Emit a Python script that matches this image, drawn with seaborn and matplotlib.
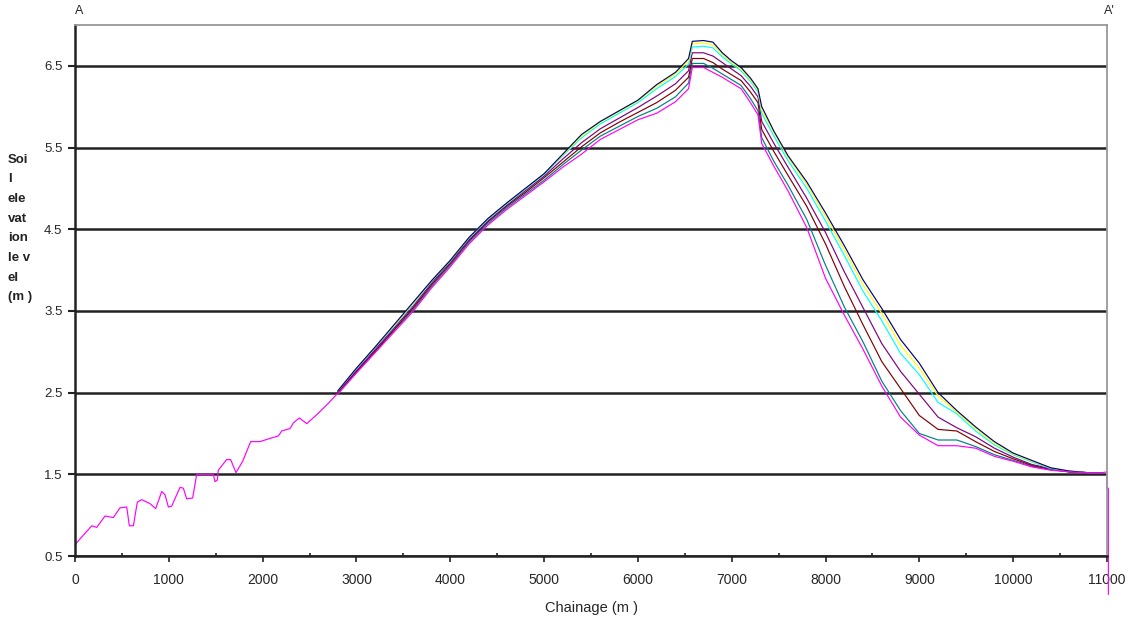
import numpy as np
import matplotlib
matplotlib.use("Agg")
import matplotlib.pyplot as plt
import seaborn as sns

# shared low section (only the magenta line is visible here)
LEFT_X = [0, 178, 231, 320, 408, 480, 551, 579, 622, 664, 711, 800, 860, 924, 959, 995,
          1030, 1119, 1155, 1190, 1254, 1297, 1403, 1474, 1492, 1517, 1527, 1616, 1659,
          1716, 1787, 1872, 1971, 2079, 2168, 2203, 2292, 2328, 2391, 2470, 2577, 2701, 2790]
LEFT_Y = [0.64, 0.87, 0.85, 0.99, 0.97, 1.09, 1.10, 0.87, 0.87, 1.16, 1.19, 1.14, 1.08,
          1.29, 1.25, 1.10, 1.11, 1.34, 1.33, 1.20, 1.21, 1.50, 1.50, 1.50, 1.41, 1.43,
          1.55, 1.68, 1.68, 1.52, 1.66, 1.90, 1.90, 1.94, 1.97, 2.03, 2.06, 2.13, 2.19,
          2.12, 2.23, 2.37, 2.48]

# chainage for the seven diverging profiles
X_R = [2800, 3000, 3200, 3400, 3600, 3800, 4000, 4200, 4400, 4600, 4800, 5000, 5200,
       5400, 5600, 5800, 6000, 6200, 6400, 6540, 6580, 6700, 6800, 6900, 7000, 7100,
       7200, 7280, 7320, 7450, 7600, 7800, 8000, 8200, 8400, 8600, 8800, 9000, 9200,
       9400, 9600, 9800, 10000, 10200, 10400, 10600, 10800, 10950]

navy = [2.52, 2.80, 3.06, 3.33, 3.60, 3.87, 4.12, 4.40, 4.63, 4.82, 5.00, 5.18, 5.42,
        5.66, 5.82, 5.95, 6.08, 6.27, 6.42, 6.59, 6.80, 6.81, 6.79, 6.66, 6.56, 6.48,
        6.35, 6.22, 6.00, 5.70, 5.40, 5.08, 4.70, 4.30, 3.88, 3.53, 3.15, 2.86, 2.50,
        2.28, 2.08, 1.90, 1.76, 1.67, 1.58, 1.54, 1.52, 1.52]
yellow = [2.52, 2.80, 3.06, 3.32, 3.59, 3.87, 4.12, 4.40, 4.63, 4.82, 5.00, 5.18, 5.41,
          5.64, 5.81, 5.94, 6.07, 6.25, 6.40, 6.56, 6.77, 6.78, 6.76, 6.64, 6.54, 6.46,
          6.33, 6.20, 5.96, 5.68, 5.38, 5.05, 4.66, 4.25, 3.82, 3.47, 3.08, 2.80, 2.46,
          2.26, 2.06, 1.88, 1.75, 1.66, 1.58, 1.54, 1.52, 1.52]
cyan = [2.52, 2.79, 3.05, 3.31, 3.58, 3.86, 4.11, 4.39, 4.62, 4.81, 4.99, 5.17, 5.40,
        5.62, 5.79, 5.92, 6.05, 6.22, 6.37, 6.52, 6.73, 6.74, 6.72, 6.61, 6.52, 6.44,
        6.31, 6.18, 5.92, 5.64, 5.34, 5.00, 4.60, 4.18, 3.74, 3.38, 2.98, 2.72, 2.38,
        2.24, 2.03, 1.86, 1.74, 1.65, 1.57, 1.54, 1.52, 1.52]
purple = [2.51, 2.77, 3.03, 3.29, 3.55, 3.84, 4.10, 4.37, 4.60, 4.79, 4.97, 5.15, 5.36,
          5.56, 5.73, 5.86, 5.99, 6.13, 6.28, 6.44, 6.66, 6.66, 6.62, 6.54, 6.46, 6.38,
          6.25, 6.12, 5.82, 5.55, 5.26, 4.88, 4.46, 3.98, 3.54, 3.10, 2.76, 2.48, 2.20,
          2.07, 1.96, 1.82, 1.71, 1.62, 1.57, 1.53, 1.52, 1.52]
darkred = [2.50, 2.76, 3.01, 3.27, 3.53, 3.82, 4.08, 4.36, 4.59, 4.78, 4.95, 5.13, 5.32,
           5.51, 5.68, 5.81, 5.93, 6.05, 6.20, 6.36, 6.59, 6.59, 6.54, 6.46, 6.39, 6.32,
           6.18, 6.05, 5.72, 5.45, 5.16, 4.78, 4.32, 3.80, 3.33, 2.88, 2.55, 2.22, 2.05,
           2.03, 1.90, 1.78, 1.69, 1.61, 1.56, 1.53, 1.52, 1.52]
teal = [2.49, 2.75, 3.00, 3.26, 3.51, 3.80, 4.06, 4.34, 4.57, 4.76, 4.93, 5.10, 5.29,
        5.47, 5.64, 5.76, 5.88, 5.98, 6.12, 6.29, 6.53, 6.53, 6.47, 6.40, 6.33, 6.26,
        6.10, 5.95, 5.62, 5.33, 5.04, 4.62, 4.06, 3.55, 3.12, 2.64, 2.28, 2.00, 1.92,
        1.92, 1.84, 1.74, 1.67, 1.60, 1.56, 1.53, 1.52, 1.52]
magenta = [2.48, 2.74, 2.99, 3.24, 3.49, 3.78, 4.04, 4.32, 4.55, 4.74, 4.91, 5.08, 5.26,
           5.42, 5.60, 5.72, 5.84, 5.92, 6.06, 6.22, 6.48, 6.48, 6.42, 6.36, 6.29, 6.22,
           6.05, 5.90, 5.55, 5.27, 4.97, 4.52, 3.90, 3.45, 3.03, 2.58, 2.20, 1.98, 1.85,
           1.85, 1.82, 1.72, 1.66, 1.59, 1.55, 1.53, 1.52, 1.52]
# drop at the end of the section
TAIL_X = [11000, 11000, 11015, 11015]
TAIL_Y = [1.53, 1.33, 1.33, 0.03]

sns.set_style("white")
plt.rcParams['font.family'] = ['Liberation Sans', 'DejaVu Sans']

fig = plt.figure(figsize=(11.3, 6.22), dpi=100)
ax = fig.add_axes([0.0664, 0.1061, 0.9132, 0.8537])

series = [(teal, "#008080"), (darkred, "#800000"), (purple, "#800080"),
          (cyan, "#00FFFF"), (yellow, "#FFFF00"), (navy, "#000080")]
for vals, col in series:
    sns.lineplot(x=X_R, y=vals, color=col, lw=0.85, sort=False, estimator=None, ax=ax)

mx = LEFT_X + X_R + TAIL_X
my = LEFT_Y + magenta + TAIL_Y
sns.lineplot(x=mx, y=my, color="#FF00FF", lw=0.85, sort=False, estimator=None,
             ax=ax, clip_on=False)

ax.set_xlim(0, 11000)
ax.set_ylim(0.5, 7.0)
ax.set_xticks(range(0, 11001, 1000))
ax.set_xticks(range(500, 11000, 1000), minor=True)
ax.set_yticks([0.5, 1.5, 2.5, 3.5, 4.5, 5.5, 6.5])
ax.set_yticklabels(["0.5", "1.5", "2.5", "3.5", "4.5", "5.5", "6.5"])
ax.yaxis.grid(True, color="#222222", lw=1.8)
ax.set_axisbelow(True)

for side in ["left", "bottom"]:
    ax.spines[side].set_color("#222222")
    ax.spines[side].set_linewidth(1.8)
for side in ["top", "right"]:
    ax.spines[side].set_color("#999999")
    ax.spines[side].set_linewidth(1.3)

ax.tick_params(axis="y", which="major", direction="out", length=5, width=1.5,
               pad=4, labelsize=9.5, left=True, color="#222222")
ax.tick_params(axis="x", which="major", direction="out", length=4, width=1.2,
               pad=8, labelsize=10, bottom=True, color="#222222")
ax.tick_params(axis="x", which="minor", direction="in", length=2, width=1.2,
               bottom=True, color="#222222")

ax.set_xlabel("")
ax.set_ylabel("")
fig.text(0.5235, 0.022, "Chainage (m )", ha="center", va="center", fontsize=10.5)
fig.text(0.007, 0.753, "Soi\nl\nele\nvat\nion\nle v\nel\n(m )", ha="left", va="top",
         fontsize=9.5, linespacing=1.85, fontweight="bold", color="#222222")
fig.text(0.066, 0.982, "A", ha="left", va="center", fontsize=9)
fig.text(0.977, 0.982, "A'", ha="left", va="center", fontsize=9)

fig.savefig("out.png", dpi=100)
